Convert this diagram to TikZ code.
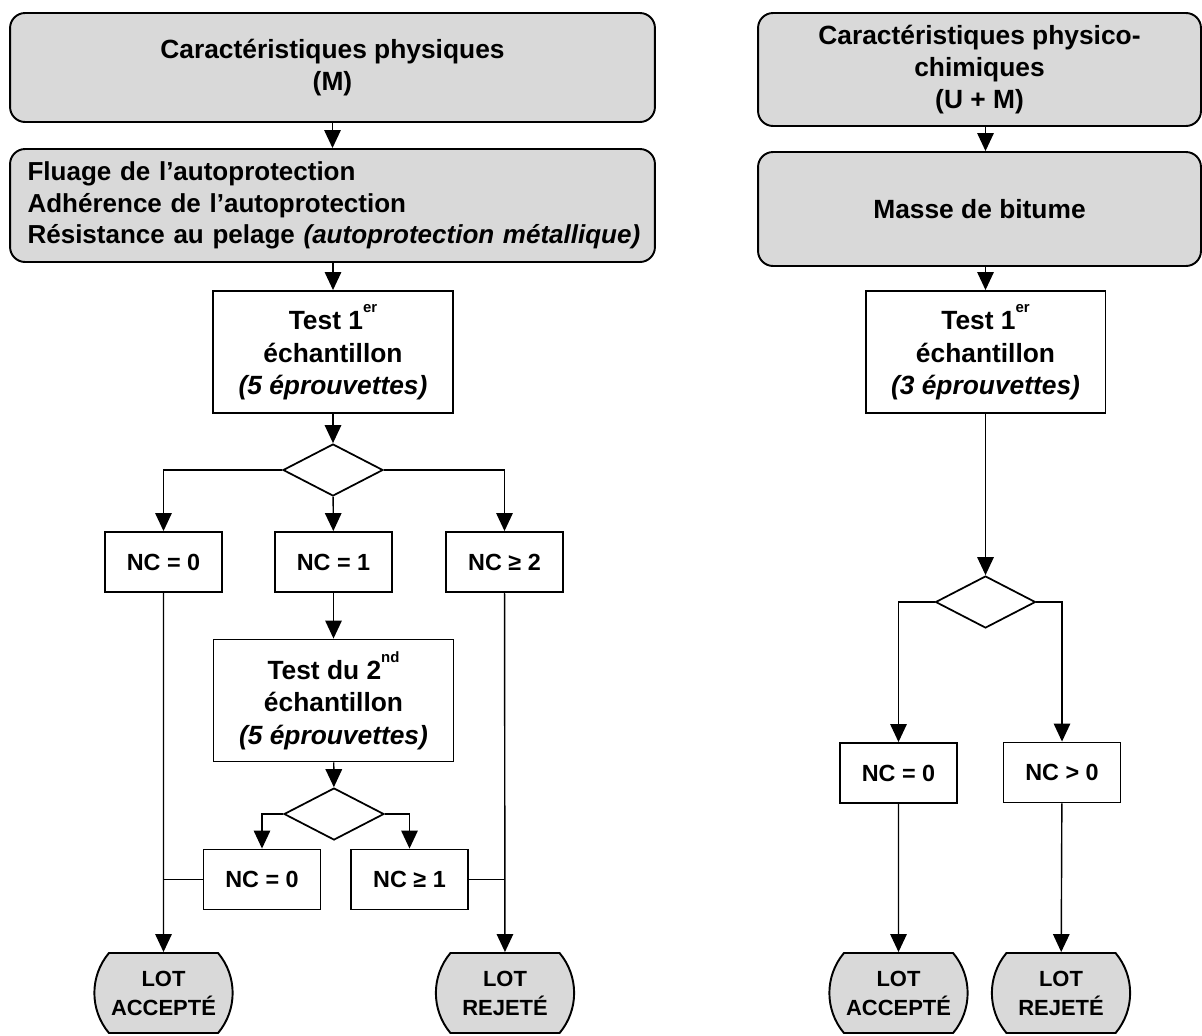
\documentclass[tikz,border=0pt]{standalone}
\usepackage{fontspec}
\setmainfont{Liberation Sans}
\usetikzlibrary{shapes.geometric,shapes.misc,arrows.meta}
\definecolor{boxgray}{HTML}{D9D9D9}
\newcommand{\exposant}[1]{\raisebox{1.25ex}{\fontsize{8.5}{8.5}\selectfont #1}}

\begin{document}
\begin{tikzpicture}[x=0.02cm,y=-0.02cm,
    big/.style={font=\bfseries\fontsize{15}{18.3}\selectfont},
    titlebox/.style={draw,fill=boxgray,rounded corners=0.3cm,line width=1.1pt,big,align=center},
    testbox/.style={draw,line width=1.1pt,big,align=center,minimum width=4.8cm,minimum height=2.44cm},
    ncbox/.style={draw,line width=1.1pt,font=\bfseries\fontsize{13.3}{15}\selectfont,minimum width=2.34cm,minimum height=1.2cm},
    choice/.style={draw,diamond,line width=1pt,minimum width=2cm,minimum height=1.04cm,inner sep=0pt},
    lotbox/.style={draw,fill=boxgray,rounded rectangle,rounded rectangle arc length=80,line width=1.1pt,align=center,minimum width=3cm,minimum height=1.6cm,font=\bfseries\fontsize{12.5}{16.5}\selectfont},
    arr/.style={-{Triangle[length=0.36cm,width=0.33cm]},line width=0.8pt},
    link/.style={line width=0.8pt}]

  \useasboundingbox (0,0) rectangle (1202,1035);

  % left column
  \node[titlebox,minimum width=12.9cm,minimum height=2.18cm] (phys) at (332.5,67.5)
    {Caractéristiques physiques\\(M)};
  \node[titlebox,align=left,text width=12.4cm,inner xsep=0.25cm,minimum height=2.26cm,
        font=\bfseries\fontsize{14.8}{17.8}\selectfont] (crit) at (332.5,205.5)
    {\hspace*{0.1cm}Fluage de l’autoprotection\\\hspace*{0.1cm}Adhérence de l’autoprotection\\\hspace*{0.1cm}Résistance au pelage \textit{(autoprotection métallique)}};
  \node[testbox] (testA) at (333,352) {Test 1\exposant{er}\\échantillon\\\textit{(5 éprouvettes)}};
  \node[choice] (decA) at (333,470) {};
  \node[ncbox] (ncA0) at (163.5,562) {NC = 0};
  \node[ncbox] (ncA1) at (333.5,562) {NC = 1};
  \node[ncbox] (ncA2) at (504.5,562) {NC ≥ 2};
  \node[testbox] (testB) at (333.5,700.5) {Test du 2\exposant{nd}\\échantillon\\\textit{(5 éprouvettes)}};
  \node[choice] (decB) at (334,814) {};
  \node[ncbox] (ncB0) at (262,879.5) {NC = 0};
  \node[ncbox] (ncB1) at (409.5,879.5) {NC ≥ 1};
  \node[lotbox] (lotA) at (163.5,993) {LOT\\ACCEPTÉ};
  \node[lotbox] (lotR) at (505,993) {LOT\\REJETÉ};

  % right column
  \node[titlebox,minimum width=8.86cm,minimum height=2.26cm] (physchim) at (979.5,69.5)
    {Caractéristiques physico-\\chimiques\\(U + M)};
  \node[titlebox,minimum width=8.86cm,minimum height=2.28cm] (masse) at (979.5,209) {Masse de bitume};
  \node[testbox] (testC) at (985.5,352) {Test 1\exposant{er}\\échantillon\\\textit{(3 éprouvettes)}};
  \node[choice] (decC) at (985.5,602) {};
  \node[ncbox] (ncC0) at (898.5,773) {NC = 0};
  \node[ncbox] (ncC1) at (1062,772.5) {NC > 0};
  \node[lotbox] (lotCA) at (898.5,993) {LOT\\ACCEPTÉ};
  \node[lotbox] (lotCR) at (1061,993) {LOT\\REJETÉ};

  % connectors
  \draw[arr] (phys) -- (crit);
  \draw[arr] (crit.south -| testA) -- (testA);
  \draw[arr] (testA) -- (decA);
  \draw[arr] (decA.west) -| (ncA0);
  \draw[arr] (decA) -- (ncA1);
  \draw[arr] (decA.east) -| (ncA2);
  \draw[arr] (ncA1) -- (testB);
  \draw[arr] (testB) -- (decB);
  \draw[arr] (decB.west) -| (ncB0);
  \draw[arr] (decB.east) -| (ncB1);
  \draw[arr] (ncA0) -- (lotA);
  \draw[arr] (ncA2) -- (lotR);
  \draw[link] (ncB0.west) -- (ncB0.west -| ncA0);
  \draw[link] (ncB1.east) -- (ncB1.east -| ncA2);

  \draw[arr] (physchim.south -| testC) -- (masse.north -| testC);
  \draw[arr] (masse.south -| testC) -- (testC);
  \draw[arr] (testC) -- (decC);
  \draw[arr] (decC.west) -| (ncC0);
  \draw[arr] (decC.east) -| (ncC1);
  \draw[arr] (ncC0) -- (lotCA);
  \draw[arr] (ncC1) -- (lotCR);

\end{tikzpicture}
\end{document}
